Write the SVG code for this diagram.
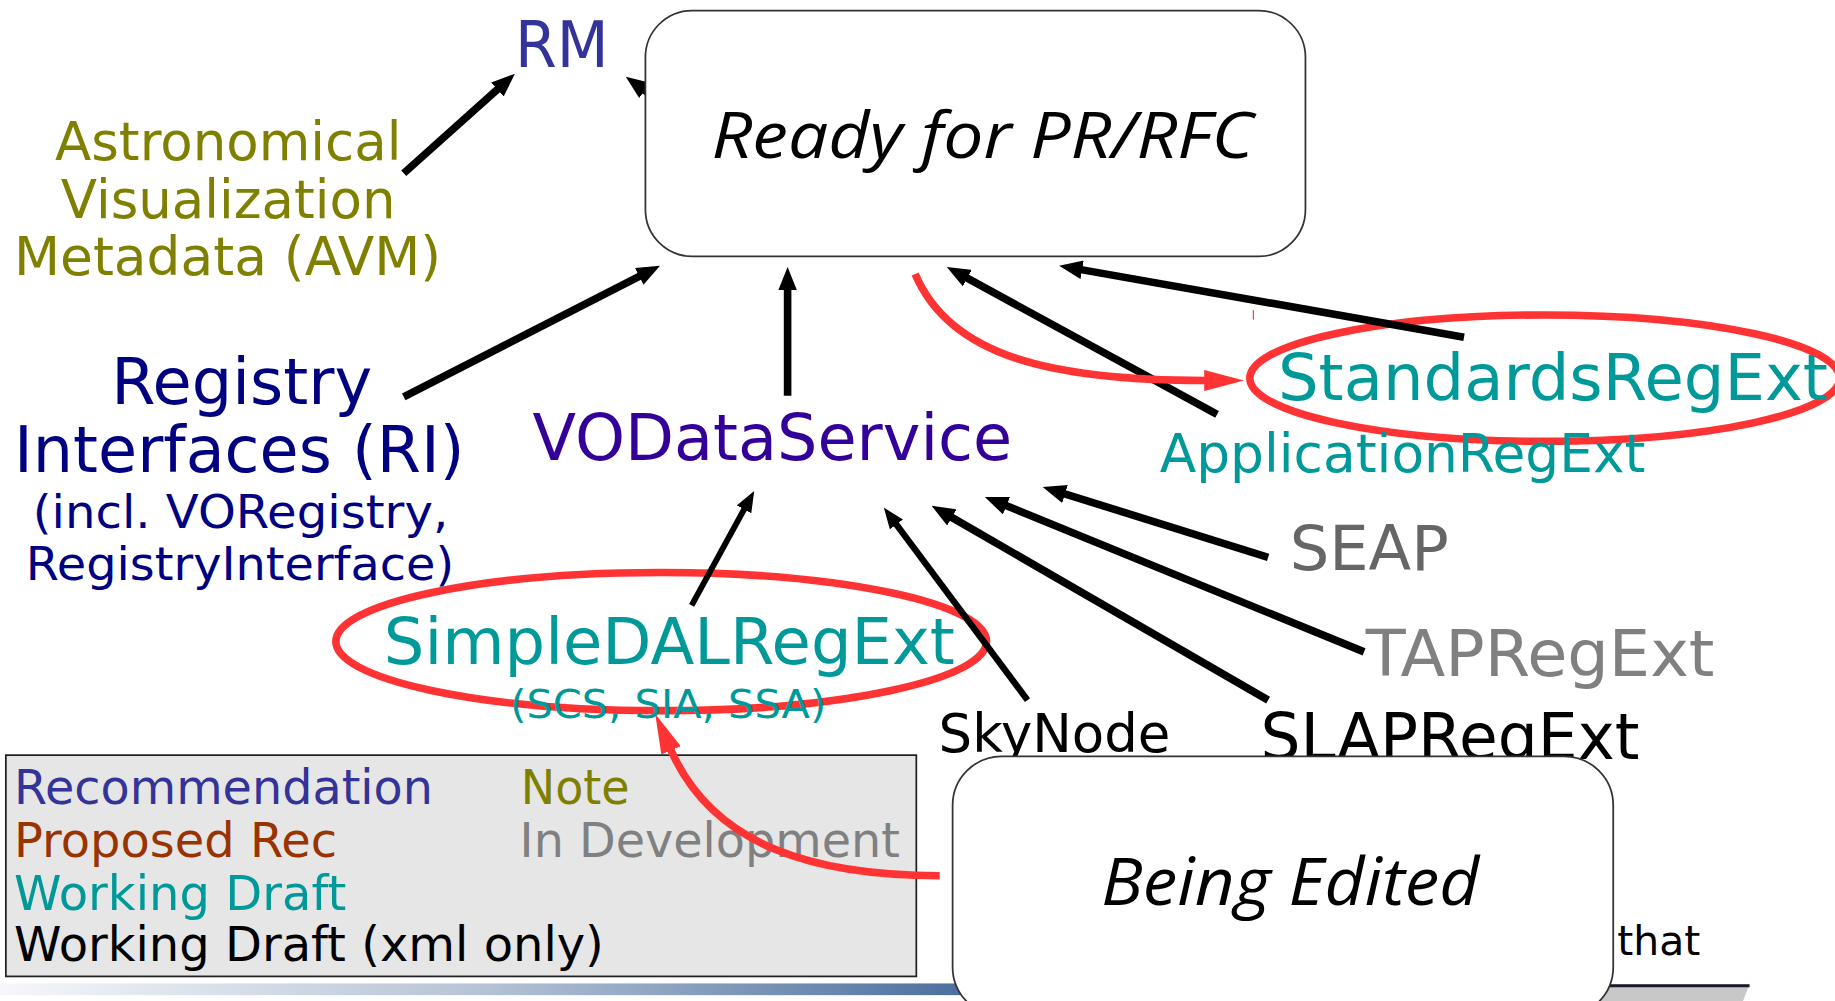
<svg xmlns="http://www.w3.org/2000/svg" width="1835" height="1001" viewBox="0 0 1835 1001">
<style>
.t{font-family:"DejaVu Sans","Liberation Sans",sans-serif;}
.it{font-family:"Comic Sans MS","Open Sans","DejaVu Sans",sans-serif;font-style:italic;fill:#000;}
.blk{stroke:#000;fill:none;stroke-linecap:butt;}
.red{stroke:#ff3333;fill:none;stroke-width:6.5;}
.box{fill:#fff;stroke:#333;stroke-width:1.5;}
</style>
<defs>
<marker id="ah" viewBox="0 0 20 16" markerUnits="userSpaceOnUse" markerWidth="20" markerHeight="16" refX="1" refY="8" orient="auto"><path d="M0,0 L20,8 L0,16 z" fill="#000"/></marker>
<marker id="ahs" viewBox="0 0 18 14" markerUnits="userSpaceOnUse" markerWidth="18" markerHeight="14" refX="1" refY="7" orient="auto"><path d="M0,0 L18,7 L0,14 z" fill="#000"/></marker>
<marker id="rh" viewBox="0 0 34 18" markerUnits="userSpaceOnUse" markerWidth="34" markerHeight="18" refX="1" refY="9" orient="auto"><path d="M0,0 L34,9 L0,18 z" fill="#ff3333"/></marker>
<linearGradient id="bar" x1="0" y1="0" x2="1" y2="0"><stop offset="0" stop-color="#f6f7fa"/><stop offset="0.5" stop-color="#b4c3d6"/><stop offset="1" stop-color="#4a6e9e"/></linearGradient>
</defs>
<g transform="scale(1.17028 1.17076)">
<rect x="0" y="840" width="830" height="10" fill="url(#bar)"/>
<g id="footer-tab"><polygon points="1368,841 1495,841 1489,856 1368,856" fill="#c8c8c8"/><line x1="1368" y1="842" x2="1495" y2="842" stroke="#1a1a2a" stroke-width="2.5"/></g>

<g id="legend">
<rect x="5" y="645" width="778" height="189" fill="#e6e6e6" stroke="#222" stroke-width="1.5"/>
<text class="t" x="12" y="687" font-size="41" textLength="358" lengthAdjust="spacingAndGlyphs" fill="#333399">Recommendation</text>
<text class="t" x="445" y="687" font-size="41" textLength="93" lengthAdjust="spacingAndGlyphs" fill="#808000">Note</text>
<text class="t" x="12" y="732" font-size="41" textLength="276" lengthAdjust="spacingAndGlyphs" fill="#993300">Proposed Rec</text>
<text class="t" x="444" y="732" font-size="41" textLength="325" lengthAdjust="spacingAndGlyphs" fill="#808080">In Development</text>
<text class="t" x="12" y="777" font-size="41" textLength="284" lengthAdjust="spacingAndGlyphs" fill="#009999">Working Draft</text>
<text class="t" x="12" y="821" font-size="41" textLength="504" lengthAdjust="spacingAndGlyphs" fill="#000">Working Draft (xml only)</text>
</g>

<g id="highlights">
<ellipse cx="1320" cy="323" rx="252" ry="54" class="red"/>
<ellipse cx="565" cy="548" rx="278" ry="59" class="red"/>
<line x1="1071" y1="265" x2="1071" y2="273" stroke="#ff3333" stroke-width="1"/>
</g>

<g id="RM"><text class="t" x="440" y="57" font-size="55" textLength="80" lengthAdjust="spacingAndGlyphs" fill="#333399">RM</text></g>
<g id="AVM" fill="#808000">
<text class="t" x="47" y="137" font-size="46" textLength="296" lengthAdjust="spacingAndGlyphs">Astronomical</text>
<text class="t" x="52" y="186" font-size="46" textLength="286" lengthAdjust="spacingAndGlyphs">Visualization</text>
<text class="t" x="12" y="235" font-size="46" textLength="365" lengthAdjust="spacingAndGlyphs">Metadata (AVM)</text>
</g>
<g id="RI" fill="#000080">
<text class="t" x="95" y="345" font-size="54" textLength="223" lengthAdjust="spacingAndGlyphs">Registry</text>
<text class="t" x="12" y="403" font-size="54" textLength="385" lengthAdjust="spacingAndGlyphs">Interfaces (RI)</text>
<text class="t" x="28" y="451" font-size="40" textLength="355" lengthAdjust="spacingAndGlyphs">(incl. VORegistry,</text>
<text class="t" x="22" y="495" font-size="40" textLength="366" lengthAdjust="spacingAndGlyphs">RegistryInterface)</text>
</g>
<g id="VODataService"><text class="t" x="455" y="393" font-size="55" textLength="410" lengthAdjust="spacingAndGlyphs" fill="#330099">VODataService</text></g>
<g id="StandardsRegExt"><text class="t" x="1092" y="342" font-size="55" textLength="470" lengthAdjust="spacingAndGlyphs" fill="#009999">StandardsRegExt</text></g>
<g id="ApplicationRegExt"><text class="t" x="991" y="403" font-size="45" textLength="415" lengthAdjust="spacingAndGlyphs" fill="#009999">ApplicationRegExt</text></g>
<g id="SEAP"><text class="t" x="1102" y="487" font-size="53" textLength="136" lengthAdjust="spacingAndGlyphs" fill="#666666">SEAP</text></g>
<g id="TAPRegExt"><text class="t" x="1167" y="577" font-size="55" textLength="298" lengthAdjust="spacingAndGlyphs" fill="#808080">TAPRegExt</text></g>
<g id="SLAPRegExt"><text class="t" x="1077" y="648" font-size="55" textLength="324" lengthAdjust="spacingAndGlyphs" fill="#000">SLAPRegExt</text></g>
<g id="SkyNode"><text class="t" x="802" y="642" font-size="45" textLength="198" lengthAdjust="spacingAndGlyphs" fill="#000">SkyNode</text></g>
<g id="SimpleDALRegExt" fill="#009999">
<text class="t" x="328" y="567" font-size="55" textLength="488" lengthAdjust="spacingAndGlyphs">SimpleDALRegExt</text>
<text class="t" x="436" y="613" font-size="33" textLength="270" lengthAdjust="spacingAndGlyphs">(SCS, SIA, SSA)</text>
</g>
<g id="that"><text class="t" x="1382" y="816" font-size="35" textLength="71" lengthAdjust="spacingAndGlyphs" fill="#000">that</text></g>

<g id="connectors">
<line class="blk" stroke-width="6.5" x1="345" y1="148" x2="425.8" y2="75.7" marker-end="url(#ah)"/>
<line class="blk" stroke-width="6.5" x1="578" y1="97" x2="550.1" y2="76.7" marker-end="url(#ah)"/>
<line class="blk" stroke-width="6.5" x1="345" y1="339" x2="547.1" y2="235.6" marker-end="url(#ah)"/>
<line class="blk" stroke-width="6.5" x1="673" y1="338" x2="673" y2="247" marker-end="url(#ah)"/>
<line class="blk" stroke-width="6.5" x1="1040" y1="354" x2="825.7" y2="237.1" marker-end="url(#ah)"/>
<line class="blk" stroke-width="6.5" x1="1251" y1="288" x2="923.7" y2="230.3" marker-end="url(#ah)"/>
<line class="blk" stroke-width="6.5" x1="1083.6" y1="476" x2="909.1" y2="421.6" marker-end="url(#ah)"/>
<line class="blk" stroke-width="6.5" x1="1165.6" y1="556.8" x2="859.1" y2="431.6" marker-end="url(#ah)"/>
<line class="blk" stroke-width="6.5" x1="1083.6" y1="598" x2="812.5" y2="441.5" marker-end="url(#ah)"/>
<line class="blk" stroke-width="5.5" x1="878" y1="598" x2="765.4" y2="447.2" marker-end="url(#ahs)"/>
<line class="blk" stroke-width="5" x1="591" y1="517" x2="636.3" y2="434.2" marker-end="url(#ahs)"/>
<path class="red" d="M782,234 C812,305 900,325 1030,325" marker-end="url(#rh)"/>
<path class="red" d="M803,748 C700,748 610,725 573,640" marker-end="url(#rh)"/>
</g>

<g id="ready">
<rect class="box" x="551.5" y="9" width="564" height="210" rx="40" ry="40"/>
<text class="it" x="608" y="135" font-size="54" textLength="463" lengthAdjust="spacingAndGlyphs">Ready for PR/RFC</text>
</g>
<g id="editing">
<rect class="box" x="814" y="646" width="564.5" height="222" rx="42" ry="42"/>
<text class="it" x="941" y="773" font-size="56" textLength="323" lengthAdjust="spacingAndGlyphs">Being Edited</text>
</g>
</g>
</svg>
